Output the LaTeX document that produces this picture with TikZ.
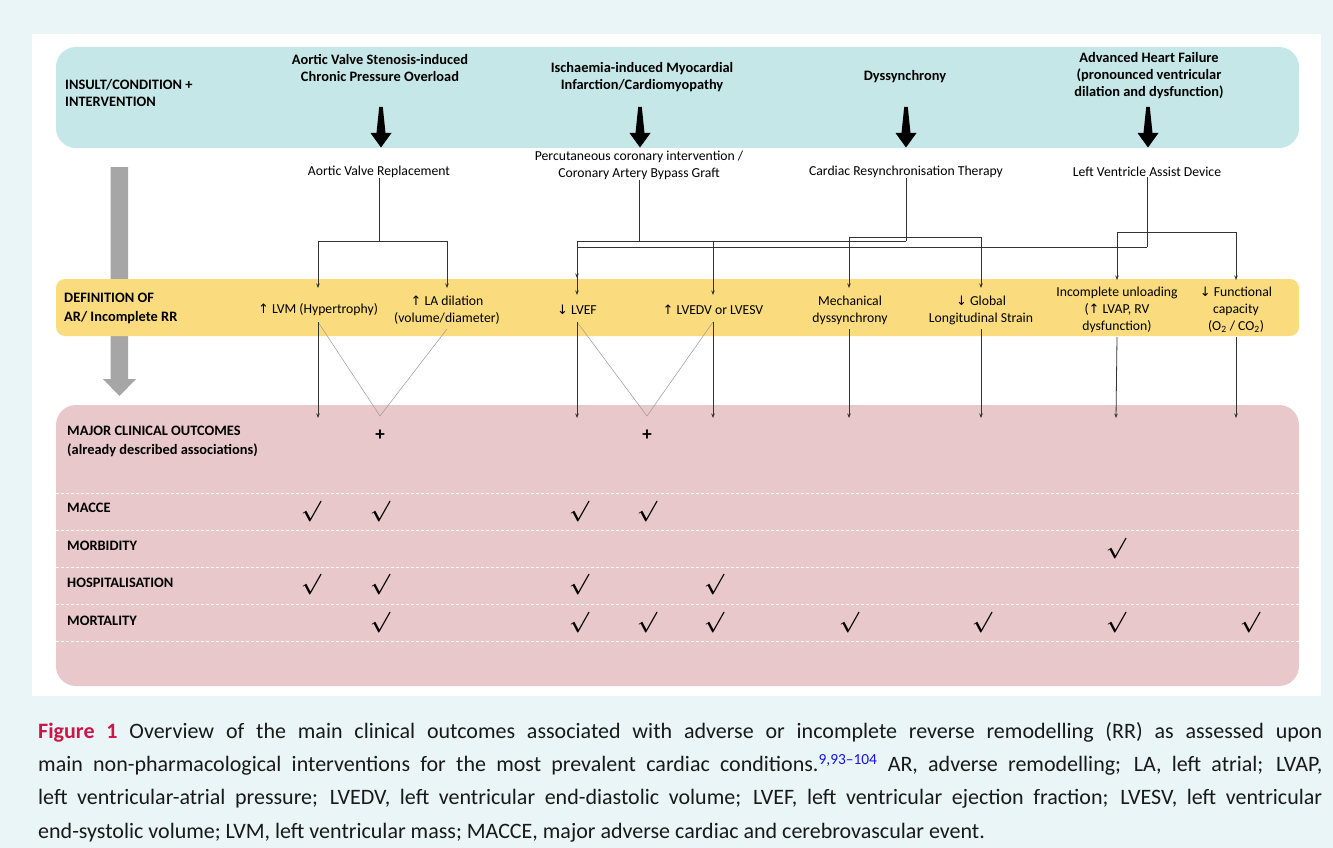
\documentclass[tikz,border=0pt]{standalone}
\usepackage{fontspec}
\setmainfont{Carlito}
\newfontfamily\symf{DejaVu Sans}
\usetikzlibrary{arrows.meta}
\definecolor{bgcyan}{HTML}{E9F5F7}
\definecolor{topband}{HTML}{C5E7E8}
\definecolor{yelband}{HTML}{FADC7E}
\definecolor{pinkband}{HTML}{E8C8CA}
\definecolor{bigarrow}{HTML}{A6A6A6}
\definecolor{figred}{RGB}{204,22,72}
\definecolor{refblue}{RGB}{20,20,230}
\newcommand{\up}{{\symf\fontsize{13}{13}\selectfont ↑}}
\newcommand{\dn}{{\symf\fontsize{13}{13}\selectfont ↓}}
\begin{document}
\begin{tikzpicture}[x=1pt,y=-1pt,
  lbl/.style={font=\fontsize{13.7}{17}\selectfont, align=center, inner sep=0pt},
  blbl/.style={font=\fontsize{14.4}{17}\selectfont\bfseries, align=center, inner sep=0pt},
  rowlbl/.style={font=\fontsize{14.4}{19}\selectfont\bfseries, align=left, anchor=west, inner sep=0pt},
  conn/.style={line width=0.8pt, draw=black!80},
  arr/.style={conn, -{Stealth[length=4.5pt,width=3.5pt]}},
  vline/.style={line width=0.5pt, draw=black!40},
  chk/.style={font=\fontsize{20}{20}\selectfont\boldmath, inner sep=0pt},
  plus/.style={font=\fontsize{19}{19}\selectfont\bfseries, inner sep=0pt},
  dsep/.style={draw=white, line width=0.9pt, dash pattern=on 3pt off 2pt},
  blackarrow/.style={fill=black}
]
\useasboundingbox (0,0) rectangle (1333,848);
\fill[bgcyan] (0,0) rectangle (1333,848);
\fill[white] (32,34) rectangle (1321,696);

% bands
\fill[topband, rounded corners=20pt] (56,47) rectangle (1299,148);
\fill[bigarrow] (110.5,167) -- (128,167) -- (128,379) -- (136,379) -- (119.5,396) -- (103,379) -- (110.5,379) -- cycle;
\fill[yelband, rounded corners=9pt] (56,279) rectangle (1299,336);
\fill[pinkband, rounded corners=20pt] (56,405) rectangle (1299,686);
\foreach \yy in {493,530,567,604,641} \draw[dsep] (56,\yy) -- (1299,\yy);

% left labels
\node[rowlbl, font=\fontsize{14.4}{17}\selectfont\bfseries] (insult) at (65,93) {INSULT/CONDITION +\\INTERVENTION};
\node[rowlbl, font=\fontsize{14.4}{19}\selectfont\bfseries] (defin) at (64,308) {DEFINITION OF\\AR/ Incomplete RR};
\node[rowlbl] (major) at (67,441.5) {MAJOR CLINICAL OUTCOMES\\(already described associations)};
\node[rowlbl] (macce) at (67,508) {MACCE};
\node[rowlbl] (morb) at (67,546) {MORBIDITY};
\node[rowlbl] (hosp) at (67,583) {HOSPITALISATION};
\node[rowlbl] (mort) at (67,621) {MORTALITY};

% conditions
\node[blbl] (c1) at (380,68) {Aortic Valve Stenosis-induced\\Chronic Pressure Overload};
\node[blbl] (c2) at (642,77) {Ischaemia-induced Myocardial\\Infarction/Cardiomyopathy};
\node[blbl] (c3) at (905,77) {Dyssynchrony};
\node[blbl] (c4) at (1149,76) {Advanced Heart Failure\\(pronounced ventricular\\dilation and dysfunction)};

% black arrows
\foreach \xx in {381,640,906,1148}
  \fill[blackarrow] (\xx-1.8,107) -- (\xx+1.8,107) -- (\xx+4.5,133) -- (\xx+10.5,133) -- (\xx,147.5) -- (\xx-10.5,133) -- (\xx-4.5,133) -- cycle;

% interventions
\node[lbl] (avr) at (379,172) {Aortic Valve Replacement};
\node[lbl] (pci) at (639,165) {Percutaneous coronary intervention /\\Coronary Artery Bypass Graft};
\node[lbl] (crt) at (906,172) {Cardiac Resynchronisation Therapy};
\node[lbl] (lvad) at (1147,172) {Left Ventricle Assist Device};

% definitions
\node[lbl] (lvm) at (318,310) {\up\ LVM (Hypertrophy)};
\node[lbl] (lad) at (447,310) {\up\ LA dilation\\(volume/diameter)};
\node[lbl] (lvef) at (577,310) {\dn\ LVEF};
\node[lbl] (lvedv) at (713,310) {\up\ LVEDV or LVESV};
\node[lbl] (mech) at (850,310) {Mechanical\\dyssynchrony};
\node[lbl] (gls) at (981,310) {\dn\ Global\\Longitudinal Strain};
\node[lbl] (unl) at (1117,310) {Incomplete unloading\\(\up\ LVAP, RV\\dysfunction)};
\node[lbl] (func) at (1236,310) {\dn\ Functional\\capacity\\(O\textsubscript{2} / CO\textsubscript{2})};

% junction coordinates
\coordinate (avrJ) at (379,241);
\coordinate (avrL) at (318,241);
\coordinate (avrR) at (447,241);
\coordinate (pciJ) at (639,241);
\coordinate (rowAL) at (577,241);
\coordinate (rowAR) at (906,241);
\coordinate (pciE) at (713,241);
\coordinate (crtL) at (849,237);
\coordinate (crtR) at (981,237);
\coordinate (rowBL) at (577,247);
\coordinate (rowBR) at (1147,247);
\coordinate (lvadL) at (1117,232);
\coordinate (lvadR) at (1236,232);
% arrow ends at the definitions
\coordinate (tLvm) at (318,288);
\coordinate (tLad) at (447,288);
\coordinate (tLvefA) at (577,278);
\coordinate (tLvefB) at (577,295);
\coordinate (tLvedv) at (713,295);
\coordinate (tMech) at (849,288);
\coordinate (tGls) at (981,288);
\coordinate (tUnl) at (1117,280);
\coordinate (tFunc) at (1236,280);

% AVR
\draw[conn] (avr.south) -- (avrJ);
\draw[conn] (avrL) -- (avrR);
\draw[arr] (avrL) -- (tLvm);
\draw[arr] (avrR) -- (tLad);
% PCI
\draw[conn] (pci.south) -- (pciJ);
\draw[conn] (rowAL) -- (rowAR);
\draw[arr] (rowAL) -- (tLvefA);
\draw[arr] (pciE) -- (tLvedv);
% CRT
\draw[conn] (crt.south) -- (rowAR);
\draw[conn] (crtL) -- (crtR);
\draw[arr] (crtL) -- (tMech);
\draw[arr] (crtR) -- (tGls);
% LVAD
\draw[conn] (lvad.south) -- (rowBR);
\draw[conn] (rowBL) -- (rowBR);
\draw[arr] (rowBL) -- (tLvefB);
\draw[conn] (lvadL) -- (lvadR);
\draw[arr] (lvadL) -- (tUnl);
\draw[arr] (lvadR) -- (tFunc);

% from definitions to outcomes
\coordinate (sLvm) at (318,322);
\coordinate (sLad) at (447,329);
\coordinate (sLvef) at (577,322);
\coordinate (sLvedv) at (713,322);
\coordinate (sMech) at (849,329);
\coordinate (sGls) at (981,329);
\coordinate (sUnl) at (1117,337);
\coordinate (sFunc) at (1236,337);
\coordinate (vA) at (380,416);
\coordinate (vB) at (647,416);
\draw[vline] (sLvm) -- (vA) -- (sLad);
\draw[vline] (sLvef) -- (vB) -- (sLvedv);
\draw[arr] (sLvm) -- (318,418);
\draw[arr] (sLvef) -- (577,418);
\draw[arr] (sLvedv) -- (713,418);
\draw[arr] (sMech) -- (849,418);
\draw[arr] (sGls) -- (981,418);
\draw[arr] (sUnl) -- (1116,418);
\draw[arr] (sFunc) -- (1236,418);

\node[plus] (plusA) at (380,435) {+};
\node[plus] (plusB) at (647,435) {+};

% check marks
\foreach \xx/\yy [count=\i] in {311/512,380/512,579/512,647/512,
   1116/549,
   311/585,380/585,579/585,714/585,
   380/623,579/623,647/623,714/623,849/623,982/623,1116/623,1250/623}
  \node[chk] (ck\i) at (\xx,\yy) {$\surd$};

% caption
\node[anchor=north west, inner sep=0pt, text width=1284pt, align=justify,
      font=\fontsize{22}{33.3}\selectfont, text=black!90] (cap) at (38,722)
 {{\color{figred}\bfseries Figure 1} Overview of the main clinical outcomes associated with adverse or incomplete reverse remodelling (RR) as assessed upon\linebreak
 main non-pharmacological interventions for the most prevalent cardiac conditions.\textsuperscript{\color{refblue}9,93–104} AR, adverse remodelling; LA, left atrial; LVAP,\linebreak
 left ventricular-atrial pressure; LVEDV, left ventricular end-diastolic volume; LVEF, left ventricular ejection fraction; LVESV, left ventricular\linebreak
 end-systolic volume; LVM, left ventricular mass; MACCE, major adverse cardiac and cerebrovascular event.};
\end{tikzpicture}
\end{document}
